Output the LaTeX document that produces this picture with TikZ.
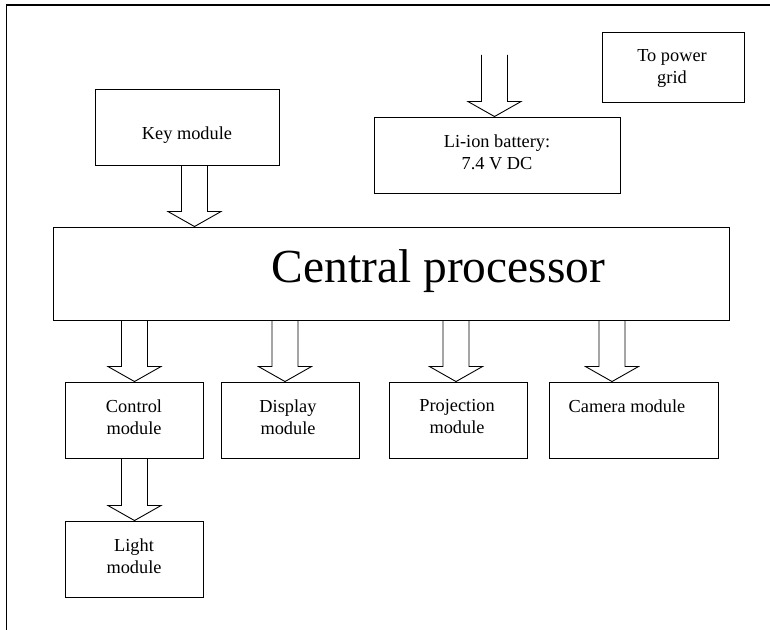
\documentclass[tikz,border=0pt]{standalone}
\usepackage{fontspec}
\setmainfont{Liberation Serif}
\usetikzlibrary{calc}
\tikzset{
  box/.style={draw,line width=0.9bp,inner sep=0pt},
  lbl/.style={align=center,inner sep=0pt,anchor=north,font=\fontsize{18.4}{21.6}\selectfont},
  biglbl/.style={inner sep=0pt,anchor=north,font=\fontsize{47.6}{50}\selectfont},
  blockarrow/.style={line width=0.9bp,to path={let \p1=(\tikztostart),\p2=(\tikztotarget) in
    (#1-13bp,\y1) -- (#1-13bp,\y2+15bp) -- (#1-26.5bp,\y2+15bp) -- (#1,\y2)
    -- (#1+26.5bp,\y2+15bp) -- (#1+13bp,\y2+15bp) -- (#1+13bp,\y1)}},
}
\begin{document}
\begin{tikzpicture}[line join=miter,]
\useasboundingbox (0,0) rectangle (770bp,630bp);
%% page frame
\draw [line width=1.2bp] (6.5bp,-10bp) -- (6.5bp,625bp) -- (790bp,625bp);
%%
\node (node_key) at (187.0bp,503.0bp) [box,minimum width=184bp,minimum height=76bp] {};
  \node (txt_key) at (187.0bp,503.4bp) [lbl] {Key module};
\node (node_grid) at (673.0bp,563.0bp) [box,minimum width=142bp,minimum height=70bp] {};
  \node (txt_grid) at (672.0bp,580.4bp) [lbl] {To power\\grid};
\node (node_batt) at (497.0bp,475.0bp) [box,minimum width=246bp,minimum height=76bp] {};
  \node (txt_batt) at (497.0bp,495.4bp) [lbl] {Li-ion battery:\\7.4 V DC};
\node (node_cpu) at (391.0bp,356.5bp) [box,minimum width=676bp,minimum height=93bp] {};
  \node (txt_cpu) at (438.5bp,380.4bp) [biglbl] {Central processor};
\node (node_ctrl) at (134.0bp,210.0bp) [box,minimum width=138bp,minimum height=76bp] {};
  \node (txt_ctrl) at (134.0bp,230.4bp) [lbl] {Control\\module};
\node (node_disp) at (290.0bp,210.0bp) [box,minimum width=138bp,minimum height=76bp] {};
  \node (txt_disp) at (288.0bp,230.4bp) [lbl] {Display\\module};
\node (node_proj) at (458.0bp,210.0bp) [box,minimum width=138bp,minimum height=76bp] {};
  \node (txt_proj) at (457.0bp,230.4bp) [lbl] {Projection\\module};
\node (node_cam) at (633.5bp,210.0bp) [box,minimum width=169bp,minimum height=76bp] {};
  \node (txt_cam) at (627.0bp,230.4bp) [lbl] {Camera module};
\node (node_light) at (134.0bp,71.0bp) [box,minimum width=138bp,minimum height=76bp] {};
  \node (txt_light) at (134.0bp,91.4bp) [lbl] {Light\\module};
%%
\coordinate (grid_feed) at (494.5bp,575.0bp);
  \draw [blockarrow=494.5bp] (grid_feed) to (node_batt.north);
  \draw [blockarrow=194.5bp] (node_key.south) to (node_cpu.north);
  \draw [blockarrow=134.5bp] (node_cpu.south) to (node_ctrl.north);
  \draw [blockarrow=285.0bp] (node_cpu.south) to (node_disp.north);
  \draw [blockarrow=456.0bp] (node_cpu.south) to (node_proj.north);
  \draw [blockarrow=612.0bp] (node_cpu.south) to (node_cam.north);
  \draw [blockarrow=134.5bp] (node_ctrl.south) to (node_light.north);
%
\end{tikzpicture}
\end{document}
